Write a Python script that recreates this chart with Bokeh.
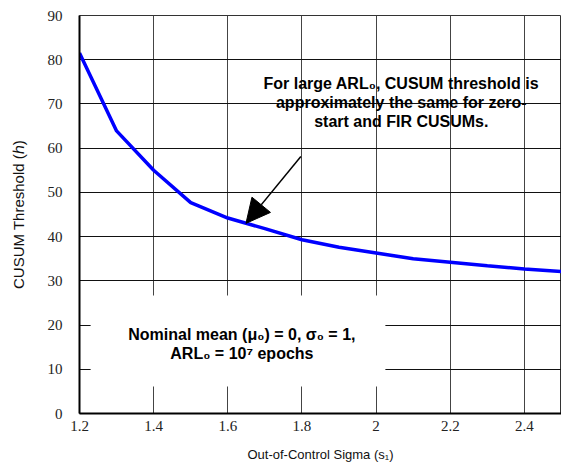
from bokeh.plotting import figure
from bokeh.models import (FixedTicker, CustomJSTickFormatter, BoxAnnotation, Label,
                          Arrow, NormalHead)
from bokeh.embed import file_html
from bokeh.resources import INLINE

# ---- data ----
sigma = [1.2, 1.3, 1.4, 1.5, 1.6, 1.7, 1.8, 1.9, 2.0, 2.1, 2.2, 2.3, 2.4, 2.5]
threshold = [81.5, 63.9, 55.0, 47.7, 44.2, 41.8, 39.3, 37.6, 36.3, 35.0, 34.2, 33.4, 32.7, 32.1]
x_ticks = [1.2, 1.4, 1.6, 1.8, 2.0, 2.2, 2.4]
y_ticks = [0, 10, 20, 30, 40, 50, 60, 70, 80, 90]

note_top = ["For large ARL\u2080, CUSUM threshold is",
            "approximately the same for zero-",
            "start and FIR CUSUMs."]
note_bottom = ["Nominal mean (\u03bc\u2080) = 0, \u03c3\u2080 = 1,",
               "ARL\u2080 = 10\u2077 epochs"]

p = figure(width=561, height=468, x_range=(1.2, 2.5), y_range=(0, 90),
           min_border_left=79, min_border_right=0, min_border_top=15,
           min_border_bottom=55, output_backend="svg", toolbar_location=None)
p.background_fill_color = "white"
p.border_fill_color = "white"
p.outline_line_color = "#333333"
p.outline_line_width = 1

# axes
for ax in p.xaxis + p.yaxis:
    ax.major_tick_in = 0
    ax.major_tick_out = 0
    ax.minor_tick_line_color = None
    ax.axis_line_color = "black"
    ax.axis_line_width = 2
    ax.major_label_text_font = "Times New Roman"
    ax.major_label_text_font_size = "15px"
    ax.major_label_text_color = "#222222"
    ax.axis_label_text_font = "Liberation Sans"
    ax.axis_label_text_font_style = "normal"
    ax.axis_label_text_color = "#111111"

p.xaxis.axis_label_text_font_size = "13px"
p.yaxis.axis_label_text_font_size = "15px"
p.xaxis.ticker = FixedTicker(ticks=x_ticks)
p.yaxis.ticker = FixedTicker(ticks=y_ticks)
p.xaxis.formatter = CustomJSTickFormatter(code="return String(Math.round(tick*10)/10);")
p.xaxis.axis_label = "Out-of-Control Sigma (s\u2081)"
p.yaxis.axis_label = "CUSUM Threshold (\u210e)"
p.xaxis.major_label_standoff = 7
p.xaxis.axis_label_standoff = 13
p.yaxis.major_label_standoff = 17
p.yaxis.axis_label_standoff = 18

p.xgrid.grid_line_color = "#444444"
p.ygrid.grid_line_color = "#111111"
p.xgrid.grid_line_width = 1
p.ygrid.grid_line_width = 1

p.line(sigma, threshold, line_color="#0000FF", line_width=3.5)

# white box behind bottom note
p.add_layout(BoxAnnotation(left=1.23, right=2.025, bottom=6.1, top=26.7,
                           fill_color="white", fill_alpha=1.0, line_color=None))

# arrow
p.add_layout(Arrow(end=NormalHead(size=24, fill_color="black", line_color="black"),
                   x_start=1.797, y_start=58.1, x_end=1.649, y_end=43.0,
                   line_color="black", line_width=1.5))

def add_lines(lines, xc, ys):
    for t, yy in zip(lines, ys):
        p.add_layout(Label(x=xc, y=yy, text=t, text_align="center",
                           text_baseline="middle", text_font="Liberation Sans",
                           text_font_size="16px", text_font_style="bold",
                           text_color="black"))

add_lines(note_top, 2.068, [74.7, 70.4, 66.1])
add_lines(note_bottom, 1.638, [17.9, 13.6])

open("out.html", "w").write(file_html(p, INLINE))
